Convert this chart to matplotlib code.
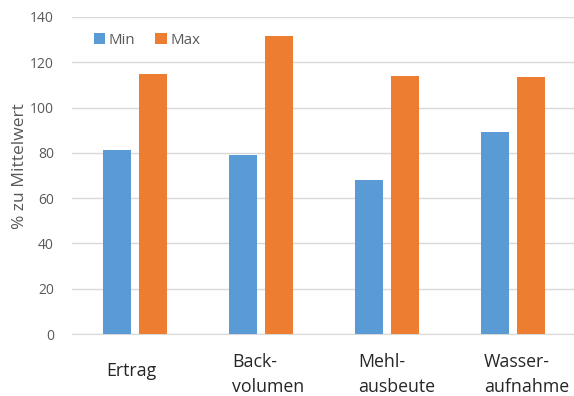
import matplotlib.pyplot as plt
import numpy as np

plt.rcParams['font.family'] = ['Open Sans', 'DejaVu Sans']

# Werte in % zum Mittelwert
kategorien = ['Ertrag', 'Back-\nvolumen', 'Mehl-\nausbeute', 'Wasser-\naufnahme']
werte_min = [81.3, 79.1, 68.1, 89.4]
werte_max = [114.8, 131.4, 113.8, 113.3]

blau = '#5B9BD5'
orange = '#ED7D31'
grau_text = '#595959'
grau_gitter = '#D9D9D9'

fig = plt.figure(figsize=(5.74, 3.96), dpi=100)
ax = fig.add_axes([72 / 574, 1 - 334 / 396, 504 / 574, 317 / 396])

x = np.arange(len(kategorien))
breite = 0.222
ax.bar(x - 0.141, werte_min, breite, color=blau, label='Min', zorder=3)
ax.bar(x + 0.141, werte_max, breite, color=orange, label='Max', zorder=3)

ax.set_xlim(-0.5, 3.5)
ax.set_ylim(0, 140)
ax.set_yticks(range(0, 141, 20))
ax.yaxis.grid(True, color=grau_gitter, linewidth=1, zorder=0)
ax.tick_params(axis='y', length=0, pad=13, labelsize=10, labelcolor=grau_text)
ax.set_xticks([])
for s in ['top', 'right', 'left']:
    ax.spines[s].set_visible(False)
ax.spines['bottom'].set_color(grau_gitter)

ax.set_ylabel('% zu Mittelwert', fontsize=12.5, color=grau_text)
ax.yaxis.set_label_coords(-0.087, 0.53)

# Kategorienbeschriftung unter den Balken, linksbündig
for xi, name in zip(x, kategorien):
    zeilen = name.count('\n') + 1
    y = -0.088 if zeilen == 1 else -0.060
    ax.text(xi - 0.23, y, name, transform=ax.get_xaxis_transform(),
            ha='left', va='top', fontsize=12.8, color='#262626',
            linespacing=1.5, clip_on=False)

ax.legend(loc='upper left', bbox_to_anchor=(0.016, 0.992), ncol=2, frameon=False,
          handlelength=0.75, handleheight=0.75, handletextpad=0.25,
          columnspacing=1.35, fontsize=10.8, labelcolor=grau_text)

fig.savefig('out.png', dpi=100)
